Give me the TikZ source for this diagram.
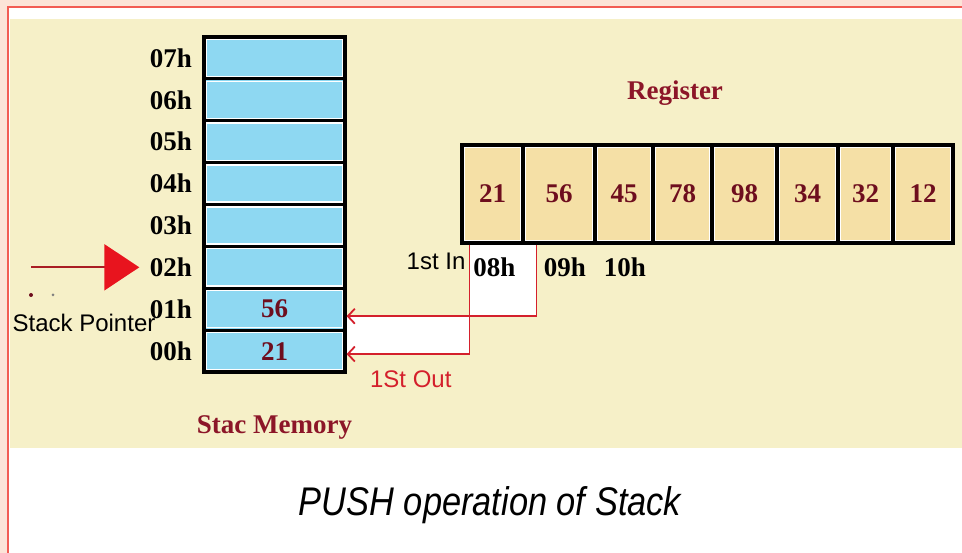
\documentclass[tikz,border=0pt]{standalone}
\usepackage{graphicx}
\usepackage{fontspec}
\setmainfont{Liberation Serif}
\setsansfont{Liberation Sans}
\usetikzlibrary{positioning,arrows.meta,backgrounds}
\definecolor{memblue}{RGB}{142,216,242}
\definecolor{regtan}{RGB}{245,224,166}
\definecolor{paper}{RGB}{246,240,200}
\definecolor{pinkbg}{RGB}{252,228,216}
\definecolor{framered}{RGB}{242,92,84}
\definecolor{valred}{RGB}{110,14,30}
\definecolor{ttlred}{RGB}{140,22,40}
\definecolor{outred}{RGB}{212,32,44}
\definecolor{ptrline}{RGB}{170,30,36}
\definecolor{ptrred}{RGB}{232,20,30}

\begin{document}
\begin{tikzpicture}[x=1pt,y=-1pt,
  mcell/.style={draw=black,line width=3.2pt,fill=memblue,minimum width=141pt,minimum height=41.875pt,inner sep=0pt,
    text=valred,font=\bfseries\fontsize{27}{27}\selectfont,
    path picture={\draw[white,line width=1.4pt] ([shift={(2.4pt,2.4pt)}]path picture bounding box.south west) rectangle ([shift={(-2.4pt,-2.4pt)}]path picture bounding box.north east);}},
  rcell/.style={draw=black,line width=3.2pt,fill=regtan,minimum height=98pt,inner sep=0pt,
    text=valred,font=\bfseries\fontsize{27}{27}\selectfont,
    path picture={\draw[white,line width=1.4pt] ([shift={(2.4pt,2.4pt)}]path picture bounding box.south west) rectangle ([shift={(-2.4pt,-2.4pt)}]path picture bounding box.north east);}},
  addr/.style={font=\bfseries\fontsize{27}{27}\selectfont},
  ttl/.style={text=ttlred,font=\bfseries\fontsize{27}{27}\selectfont},
  note/.style={font=\sffamily\fontsize{24}{24}\selectfont},
  flow/.style={draw=outred,line width=1.8pt,-{Straight Barb[length=7pt,width=15pt]}},
  ptr/.style={draw=ptrline,line width=2pt,-{Triangle[length=35pt,width=46pt,ptrred]}}]
  \useasboundingbox (0,0) rectangle (962,553);
  \begin{scope}[on background layer]
    \fill[pinkbg] (0,0) rectangle (962,553);
    \fill[white] (8,7) rectangle (962,553);
    \draw[framered,line width=1.6pt] (8,553) -- (8,7) -- (962,7);
    \fill[paper] (10,19) rectangle (962,448);
  \end{scope}
  % stack memory
  \foreach \i/\v in {0/21,1/56,2/{},3/{},4/{},5/{},6/{},7/{}}{
    \node[mcell] (mem\i) at (274.5,{372-41.875*(\i+0.5)}) {\v};
    \node[addr,left=7pt of mem\i] (a\i) {0\i h};
  }
  \node[ttl,below=38pt of mem0] (memttl) {Stac Memory};
  % register
  \foreach \l/\r/\v [count=\k] in {462/523/21,523/595/56,595/653/45,653/712/78,712/777/98,777/838/34,838/893/32,893/953/12}
    \node[rcell,minimum width={(\r-\l)*1pt}] (reg\k) at ({(\l+\r)/2},194) {\v};
  \node[ttl] (regttl) at (675,93) {Register};
  \node[addr,below=10pt of reg1,xshift=2pt] (in08) {08h};
  \node[addr,below=10pt of reg2,xshift=6pt] (in09) {09h};
  \node[addr,below=10pt of reg3,xshift=1pt] (in10) {10h};
  \node[note,left=1pt of in08,yshift=6pt] (firstin) {1st In};
  % push / pop paths
  \coordinate (p21) at ([xshift=9pt]reg1.south west);
  \coordinate (p56) at ([xshift=15pt]reg2.south west);
  \draw[flow] (p56) |- ([yshift=-7pt]mem1.east);
  \draw[flow] (p21) |- ([yshift=-3pt]mem0.east);
  \begin{scope}[on background layer]
    \fill[white] (p21) -- (p56) |- ([yshift=-7pt]mem1.east) -- ([yshift=-3pt]mem0.east) -| (p21) -- cycle;
  \end{scope}
  \node[note,text=outred,right=20pt of mem0.south east,yshift=-6pt] (firstout) {1St Out};
  % stack pointer
  \coordinate (sp) at ([xshift=-115pt]a2.west);
  \draw[ptr] (sp) -- ([xshift=-7pt]a2.west);
  \fill[valred] (31,295) circle (2pt);
  \fill[gray] (53,295) circle (1.5pt);
  \node[note] (sptxt) at (84,323) {Stack Pointer};
  \node[font=\sffamily\itshape\fontsize{40}{40}\selectfont] (caption) at (490,505) {\scalebox{0.86}[1]{PUSH operation of Stack}};
\end{tikzpicture}
\end{document}
